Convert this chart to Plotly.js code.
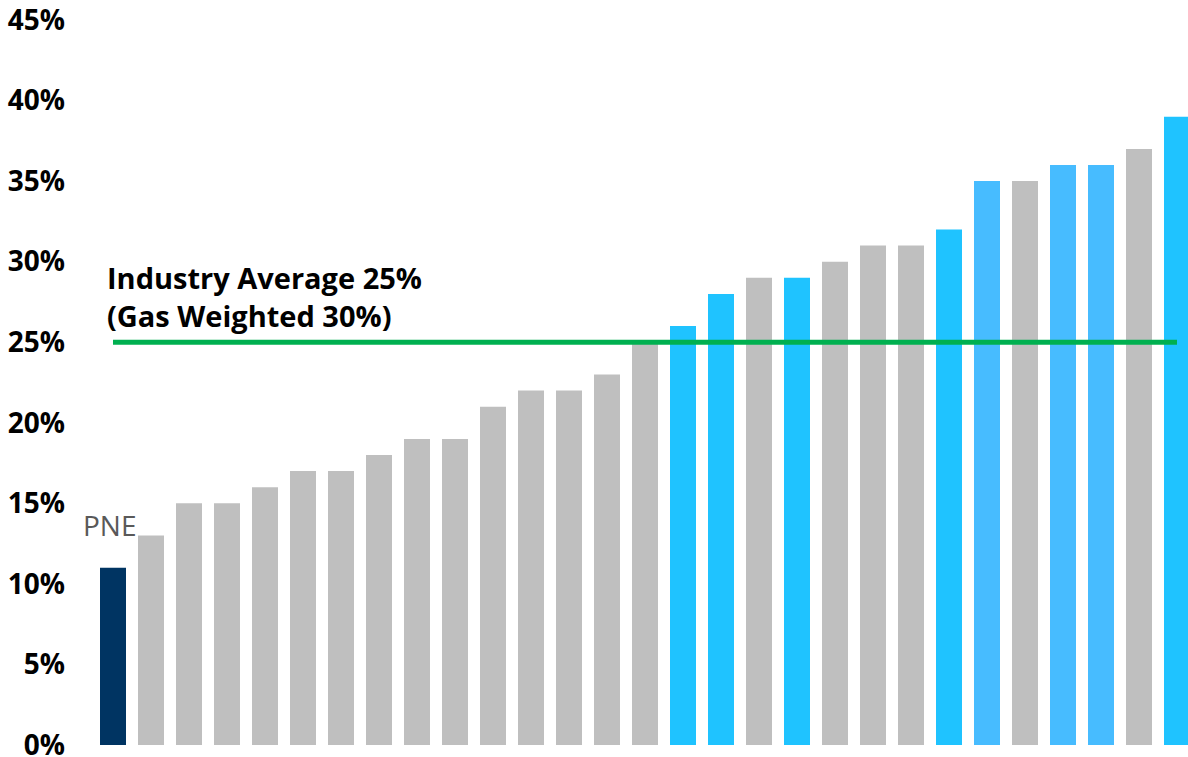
<!DOCTYPE html>
<html>
<head>
<meta charset="utf-8">
<script src="https://cdn.plot.ly/plotly-3.0.1.min.js"></script>
<style>html,body{margin:0;padding:0;background:#fff;}#chart{width:1188px;height:757px;}</style>
</head>
<body>
<div id="chart"></div>
<script>
// Companies (only PNE is labelled in the source)
const categories = ["PNE","C2","C3","C4","C5","C6","C7","C8","C9","C10","C11","C12","C13","C14","C15","C16","C17","C18","C19","C20","C21","C22","C23","C24","C25","C26","C27","C28","C29"];
// Values in percent
const values = [11,13,15,15,16,17,17,18,19,19,21,22,22,23,25,26,28,29,29,30,31,31,32,35,35,36,36,37,39];
// Colour group of each bar
const groups = ["pne","peer","peer","peer","peer","peer","peer","peer","peer","peer","peer","peer","peer","peer","peer","bright","bright","peer","bright","peer","peer","peer","bright","light","peer","light","light","peer","bright"];
const groupColors = {pne:"#003462", peer:"#BFBFBF", bright:"#1FC3FF", light:"#47BCFF"};
const industryAverage = 25;
const averageLabel = "Industry Average 25%<br>(Gas Weighted 30%)";
const yTickValues = [0,5,10,15,20,25,30,35,40,45];
const yTickLabels = ["0%","5%","10%","15%","20%","25%","30%","35%","40%","45%"];

const bars = {
  type: "bar",
  x: categories,
  y: values,
  marker: {color: groups.map(g => groupColors[g])},
  hoverinfo: "x+y",
  showlegend: false
};
const avgLine = {
  type: "scatter",
  mode: "lines",
  x: [categories[0], categories[categories.length-1]],
  y: [industryAverage, industryAverage],
  line: {color: "#00B050", width: 5},
  hoverinfo: "skip",
  showlegend: false
};

const plotLeft = 94, plotWidth = 1188 - plotLeft, catPx = 38;
const layout = {
  width: 1188, height: 757,
  margin: {l: plotLeft, r: 0, t: 20, b: 12},
  paper_bgcolor: "#fff", plot_bgcolor: "#fff",
  bargap: 0.316,
  font: {family: "Open Sans, sans-serif", color: "#000"},
  xaxis: {
    type: "category",
    range: [-0.5, -0.5 + plotWidth / catPx],
    showticklabels: false, showgrid: false, zeroline: false, showline: false, ticks: ""
  },
  yaxis: {
    range: [0, 45],
    tickvals: yTickValues, ticktext: yTickLabels,
    tickfont: {family: "Open Sans, sans-serif", size: 28, color: "#000", weight: "bold"},
    showgrid: false, zeroline: false, showline: false, ticks: "",
    ticklabelstandoff: 28,
    ticklabeloverflow: "allow"
  },
  annotations: [
    {
      x: categories[0], y: values[0], xref: "x", yref: "y",
      text: categories[0], showarrow: false,
      xanchor: "center", yanchor: "bottom", xshift: -4, yshift: 22,
      font: {family: "Open Sans, sans-serif", size: 28, color: "#595959"}
    },
    {
      x: (105 - plotLeft) / plotWidth, y: industryAverage, xref: "paper", yref: "y",
      text: averageLabel, showarrow: false, align: "left",
      xanchor: "left", yanchor: "bottom", yshift: 5,
      font: {family: "Open Sans, sans-serif", size: 29, color: "#000", weight: "bold"}
    }
  ]
};

Plotly.newPlot("chart", [bars, avgLine], layout, {displayModeBar: false, staticPlot: true});
</script>
</body>
</html>
